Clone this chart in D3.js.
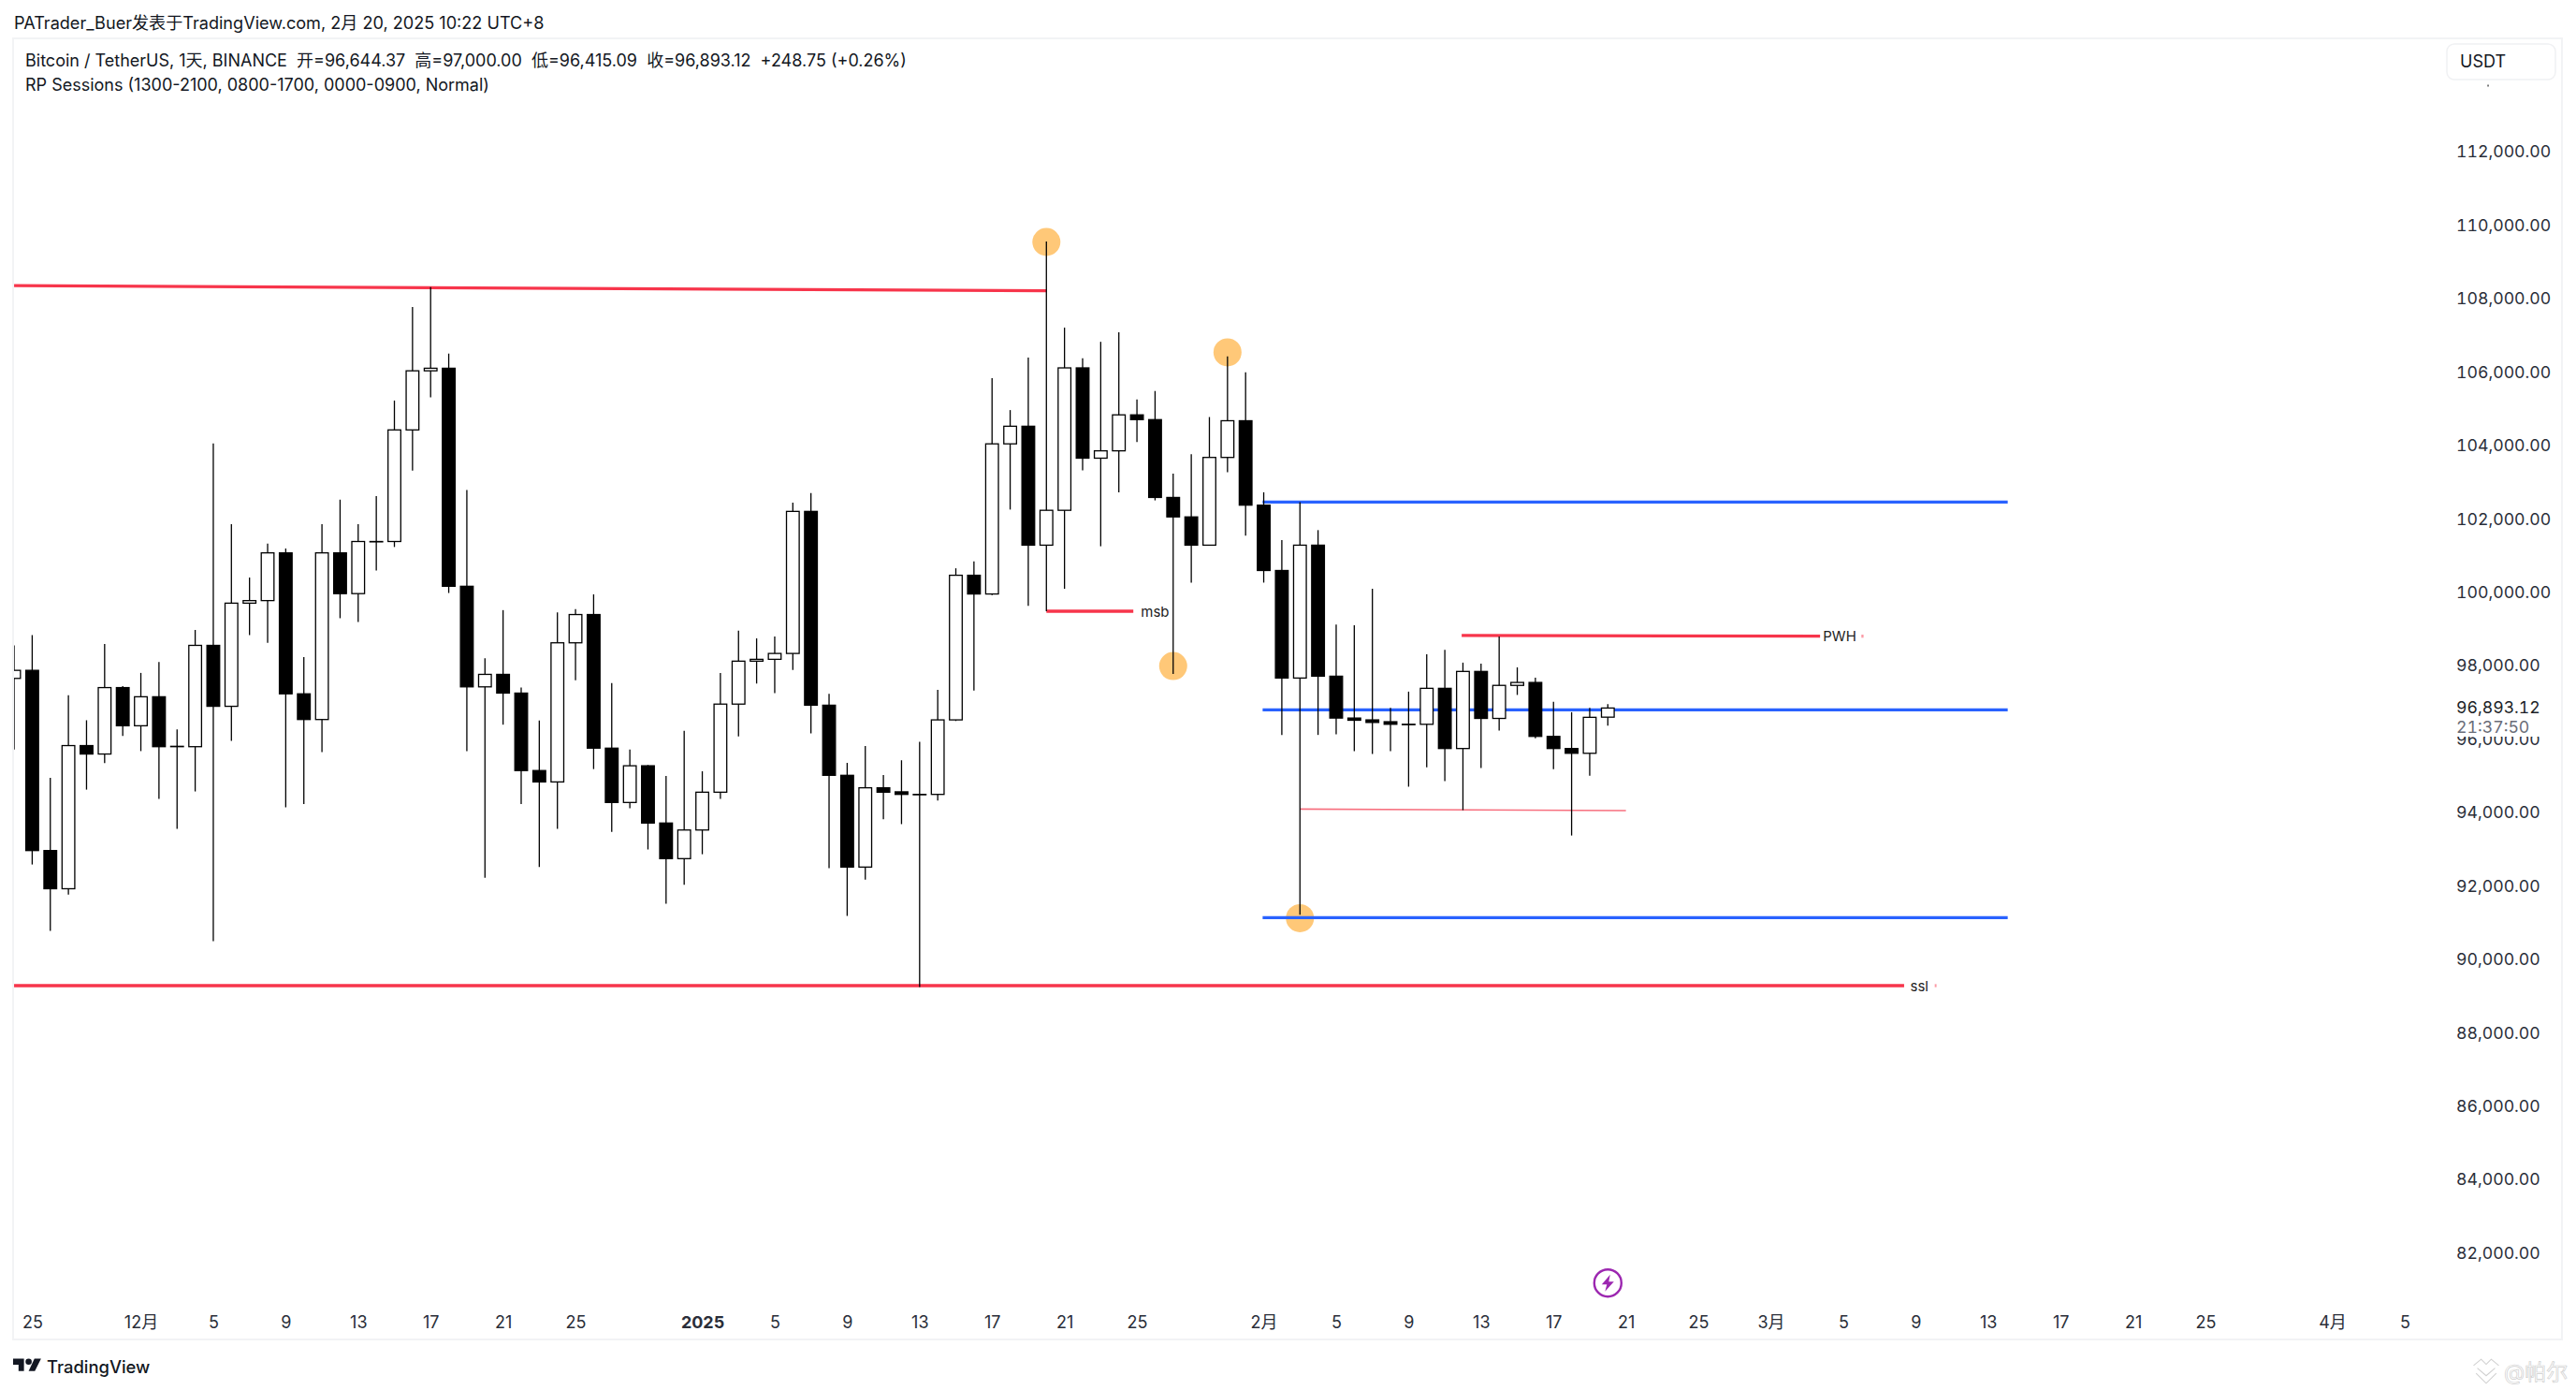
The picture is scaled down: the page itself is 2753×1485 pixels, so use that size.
<!DOCTYPE html>
<html>
<head>
<meta charset="utf-8">
<title>BTCUSDT</title>
<script src="https://cdn.jsdelivr.net/npm/d3@7"></script>
<style>
  html, body { margin: 0; padding: 0; background: #fff; }
  svg { display: block; }
  text { font-family: Inter, "Noto Sans CJK SC", sans-serif; white-space: pre; }
  .num { font-variant-numeric: tabular-nums; }
</style>
</head>
<body>
<div id="chart"></div>
<script>
// Daily candles, index 0 = 25 Nov 2024, index -1 is the half hidden one on the left edge
const firstIndex = -1;
const opens = [97700,97920,93010,91970,95870,95640,97450,96410,97200,95840,95840,98600,96940,99750,99820,101120,97280,96580,101120,100010,101430,101430,104470,106080,106150,100210,97470,97810,97300,95190,94880,
  98670,99440,95800,94320,95320,93760,92790,93570,94600,97000,98170,98220,98380,102250,96970,95060,92560,94720,94610,94540,94540,96570,100510,100000,104090,104570,101330,102280,106160,
  103700,103900,104880,104750,102630,102100,101330,103720,104720,102420,100640,97710,101330,97760,96620,96570,96520,96450,96450,97430,95790,97890,96610,97510,97590,96120,95790,95660,96644.37];
const highs = [98600,98880,94990,97240,96560,98640,97490,97850,98150,96310,99020,104100,101900,100450,101370,101240,98280,101900,102570,101900,102670,105270,107820,108360,106550,102830,98250,99560,97450,96550,99500,
  99590,99990,97570,95760,95340,95040,96270,95170,97850,99000,98790,98840,102490,102750,97280,95400,95860,95070,95470,95970,97390,100700,100890,105880,105010,106440,109600,107260,106420,
  106870,107130,105300,105530,103280,103810,104820,106470,106040,102770,101470,102500,101740,99170,99150,100140,96900,97340,98360,98480,98130,98100,98840,98000,97720,97060,96780,96900,97000];
const lows = [95760,92630,90820,91810,94670,95390,96130,95720,94420,93600,94620,90540,96000,98880,98670,94190,94280,95690,99340,99240,100640,101280,103360,105360,100030,95720,92270,96440,94280,92560,93600,
  97650,95230,93520,94160,93040,91560,92080,92910,94420,96120,97560,97300,97930,96200,92530,91230,92220,93860,93730,89290,94370,96540,97370,99970,102300,99680,99530,100140,103370,
  101300,102770,104140,102550,97820,100310,101330,103320,101590,100310,96160,91260,96160,96180,95720,95640,95720,94750,95280,94900,94110,95260,96280,97250,96070,95230,93420,95050,96415.09];
const closes = [97920,93010,91970,95870,95640,97450,96410,97200,95840,95850,98600,96940,99750,99820,101120,97280,96580,101120,100010,101430,101420,104470,106080,106150,100210,97470,97810,97300,95190,94880,98670,
  99440,95800,94320,95320,93760,92790,93570,94600,97000,98170,98220,98380,102250,96970,95060,92560,94720,94600,94540,94530,96570,100510,100000,104090,104570,101330,102280,106160,103700,
  103900,104880,104750,102630,102100,101330,103720,104720,102420,100640,97710,101330,97760,96620,96560,96500,96450,96440,97430,95790,97890,96610,97510,97590,96120,95790,95660,96640,96893.12];

const candles = d3.range(opens.length).map(k => ({
  i: k + firstIndex, o: opens[k], h: highs[k], l: lows[k], c: closes[k]
}));

// Price axis
const priceTicks = d3.range(82000, 112001, 2000);

// Time axis: candle index and text
const timeTickIndex = [0,6,10,14,18,22,26,30,37,41,45,49,53,57,61,68,72,76,80,84,88,92,96,100,104,108,112,116,120,127,131];
const timeTickLabels = ["25","12月","5","9","13","17","21","25","2025","5","9","13","17","21","25","2月","5","9","13","17","21","25","3月","5","9","13","17","21","25","4月","5"];

// Drawn levels: [start index, start price, end index, end price]
const redLines = [
  [-1, 108400, 56, 108260],
  [56, 99530, 60.8, 99530],
  [-1, 89330, 103.36, 89330],
  [78.93, 98870, 98.72, 98850]
];
const thinRedLine = [70, 94140, 88, 94100];
// Bits of the red levels that show after their labels
const lineEnds = [[101, 98850, 101.12, 98850], [105.05, 89330, 105.15, 89330]];
const blueLines = [
  [67.94, 102506, 109.08, 102506],
  [67.94, 96845, 109.08, 96845],
  [67.94, 91184, 109.08, 91184]
];
// Marked swing points: [index, price]
const swingPoints = [[56, 109590], [66, 106584], [63, 98036], [70, 91167]];
// Text next to the levels: [text, index, price]
const levelLabels = [["msb", 62, 99530], ["PWH", 99.8, 98860], ["ssl", 104.2, 89330]];

const width = 2753, height = 1485;
const frameLeft = 15, frameRight = 2737, frameTop = 41, frameBottom = 1431;

const svg = d3.select("#chart").append("svg")
  .attr("width", width)
  .attr("height", height)
  .attr("viewBox", `0 0 ${width} ${height}`);

svg.append("rect").attr("width", width).attr("height", height).attr("fill", "#fff");

const x = d3.scaleLinear().domain([0, 87]).range([34.4, 1718.3]);
const y = d3.scaleLinear().domain([112000, 82000]).range([164, 1340.45]);

svg.append("defs").append("clipPath").attr("id", "plot")
  .append("rect")
  .attr("x", frameLeft).attr("y", frameTop)
  .attr("width", frameRight - frameLeft).attr("height", frameBottom - frameTop);

// Frame
svg.append("rect")
  .attr("x", frameLeft - 1).attr("y", frameTop)
  .attr("width", frameRight - frameLeft + 2).attr("height", frameBottom - frameTop)
  .attr("fill", "none")
  .attr("stroke", "#f2f3f5")
  .attr("stroke-width", 2);

const plot = svg.append("g").attr("clip-path", "url(#plot)");

// Swing point circles sit under everything else
plot.selectAll(".swing")
  .data(swingPoints)
  .enter()
  .append("circle")
  .attr("class", "swing")
  .attr("cx", d => x(d[0]))
  .attr("cy", d => y(d[1]))
  .attr("r", 15)
  .attr("fill", "#ffc878");

function drawLines(data, color, strokeWidth) {
  plot.append("g").selectAll("line")
    .data(data)
    .enter()
    .append("line")
    .attr("x1", d => x(d[0]))
    .attr("y1", d => y(d[1]))
    .attr("x2", d => x(d[2]))
    .attr("y2", d => y(d[3]))
    .attr("stroke", color)
    .attr("stroke-width", strokeWidth);
}
drawLines(redLines, "#f7354b", 3.3);
drawLines(lineEnds, "#fb9aa5", 3.3);
drawLines([thinRedLine], "#f7707f", 1.6);
drawLines(blueLines, "#2962ff", 3.3);

// Candles
const candle = plot.append("g").selectAll("g")
  .data(candles)
  .enter()
  .append("g");

candle.append("line")
  .attr("x1", d => x(d.i))
  .attr("x2", d => x(d.i))
  .attr("y1", d => y(d.h))
  .attr("y2", d => y(d.l))
  .attr("stroke", "#000")
  .attr("stroke-width", 1.3);

candle.append("rect")
  .attr("x", d => x(d.i) - 6.8)
  .attr("width", 13.6)
  .attr("y", d => y(Math.max(d.o, d.c)))
  .attr("height", d => Math.abs(y(d.o) - y(d.c)))
  .attr("fill", d => d.c >= d.o ? "#fff" : "#000")
  .attr("stroke", "#000")
  .attr("stroke-width", 1.3);

// Level labels
svg.append("g").selectAll("text")
  .data(levelLabels)
  .enter()
  .append("text")
  .attr("x", d => x(d[1]))
  .attr("y", d => y(d[2]) + 5.5)
  .attr("text-anchor", "middle")
  .attr("font-size", 15)
  .attr("fill", "#222")
  .text(d => d[0]);

// Price axis, labels start at the same x
const yAxis = d3.axisRight(y)
  .tickValues(priceTicks)
  .tickSize(0)
  .tickFormat(d3.format(",.2f"));

const yAxisG = svg.append("g")
  .attr("transform", "translate(2625,0)")
  .call(yAxis);
yAxisG.select(".domain").remove();
yAxisG.selectAll("text")
  .attr("class", "num")
  .attr("x", 0)
  .attr("dy", "0.32em")
  .attr("y", -1.8)
  .attr("text-anchor", "start")
  .attr("font-size", 17.7)
  .attr("font-family", "Inter, sans-serif")
  .attr("fill", "#2a2e39");

// Bottom of the 114,000.00 label that the currency box hides
svg.append("rect")
  .attr("x", 2658.3).attr("y", 90.5)
  .attr("width", 1.5).attr("height", 2)
  .attr("fill", "#555");

// Last price label covers the tick under it
const lastClose = closes[closes.length - 1];
svg.append("rect")
  .attr("x", 2620).attr("y", 743)
  .attr("width", 110).attr("height", 44)
  .attr("fill", "#fff");
svg.append("text")
  .attr("class", "num")
  .attr("x", 2625).attr("y", 761.5)
  .attr("font-size", 17.7)
  .attr("fill", "#1c1f27")
  .text(d3.format(",.2f")(lastClose));
svg.append("text")
  .attr("class", "num")
  .attr("x", 2625).attr("y", 782.5)
  .attr("font-size", 17.7)
  .attr("fill", "#6a6d78")
  .text("21:37:50");

// Time axis
const xAxis = d3.axisBottom(x)
  .tickValues(timeTickIndex)
  .tickSize(0)
  .tickFormat((d, k) => timeTickLabels[k]);

const xAxisG = svg.append("g")
  .attr("transform", "translate(0,1405)")
  .call(xAxis);
xAxisG.select(".domain").remove();
xAxisG.selectAll("text")
  .attr("y", 0)
  .attr("dy", "0.8em")
  .attr("font-size", 18)
  .attr("font-family", "Inter, 'Noto Sans CJK SC', sans-serif")
  .attr("font-weight", (d, k) => timeTickLabels[k] === "2025" ? 700 : 400)
  .attr("fill", "#2a2e39");

// Header and legend
svg.append("text")
  .attr("x", 15).attr("y", 31)
  .attr("font-size", 18.1)
  .attr("fill", "#131722")
  .text("PATrader_Buer发表于TradingView.com, 2月 20, 2025 10:22 UTC+8");
svg.append("text")
  .attr("x", 27).attr("y", 71)
  .attr("font-size", 18)
  .attr("fill", "#131722")
  .text("Bitcoin / TetherUS, 1天, BINANCE  开=96,644.37  高=97,000.00  低=96,415.09  收=96,893.12  +248.75 (+0.26%)");
svg.append("text")
  .attr("x", 27).attr("y", 96.5)
  .attr("font-size", 18)
  .attr("fill", "#131722")
  .text("RP Sessions (1300-2100, 0800-1700, 0000-0900, Normal)");

// Currency box
svg.append("rect")
  .attr("x", 2615).attr("y", 47)
  .attr("width", 116).attr("height", 38)
  .attr("rx", 8)
  .attr("fill", "#fff")
  .attr("stroke", "#f0f1f3")
  .attr("stroke-width", 1.5);
svg.append("text")
  .attr("x", 2629).attr("y", 72)
  .attr("font-size", 18)
  .attr("fill", "#131722")
  .text("USDT");

// Lightning marker on the time line
const bolt = svg.append("g").attr("transform", `translate(${x(87)},1370.7)`);
bolt.append("circle")
  .attr("r", 14.5)
  .attr("fill", "#fff")
  .attr("stroke", "#9c27b0")
  .attr("stroke-width", 2.4);
bolt.append("path")
  .attr("d", "M2.5,-9 L-6.5,1.5 L-1,1.5 L-3,9 L6.5,-1.5 L1,-1.5 Z")
  .attr("fill", "#9c27b0");

// TradingView logo
const logo = svg.append("g")
  .attr("transform", "translate(14,1446.5) scale(0.83)")
  .attr("fill", "#131722");
logo.append("path").attr("d", "M14 6H0v8h7v8h7V6Z");
logo.append("path").attr("d", "M28 22h-8l7.5-16H36l-8 16Z");
logo.append("circle").attr("cx", 20).attr("cy", 10).attr("r", 4);
svg.append("text")
  .attr("x", 50).attr("y", 1467)
  .attr("font-size", 18.4)
  .attr("font-weight", 500)
  .attr("fill", "#131722")
  .text("TradingView");

// Watermark
const mark = svg.append("g")
  .attr("transform", "translate(2657,1463) scale(1.35)")
  .attr("fill", "none")
  .attr("stroke", "#d0d0d0")
  .attr("stroke-width", 0.8);
mark.append("path").attr("d", "M-10,-3 L-4,-8 L0,-4 L4,-8 L10,-3 M-7,-1 L0,5 L7,-1 M-8,3 L0,11 L8,3");
svg.append("text")
  .attr("x", 2676).attr("y", 1474)
  .attr("font-size", 23)
  .attr("fill", "#fff")
  .attr("stroke", "#cfcfcf")
  .attr("stroke-width", 0.7)
  .text("@帕尔");
</script>
</body>
</html>
